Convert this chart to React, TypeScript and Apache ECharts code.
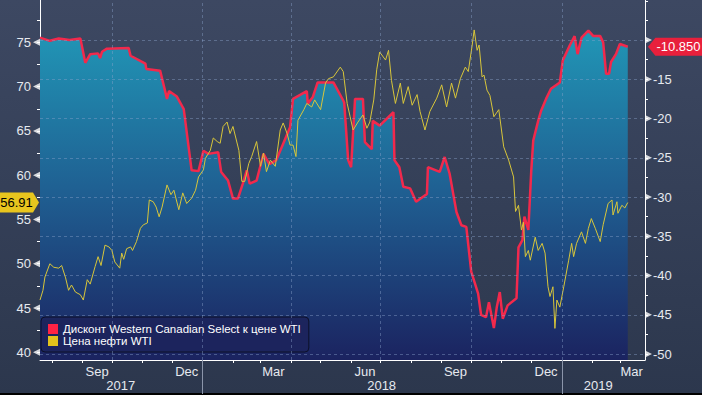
import React, { useEffect, useRef } from 'react';
import * as echarts from 'echarts';

const X_MIN = '2017-07-20';
const X_MAX = '2019-03-26 12:00';

const WCS_NAME = 'Дисконт Western Canadian Select к цене WTI';
const WTI_NAME = 'Цена нефти WTI';

const wcsData: [string, number][] = [
  ['2017-07-20', -9.7], ['2017-07-30', -10.1], ['2017-08-08', -9.8], ['2017-08-19', -10.0], ['2017-08-30', -9.8],
  ['2017-09-04', -12.9], ['2017-09-09', -11.8], ['2017-09-17', -11.7], ['2017-09-19', -12.3], ['2017-09-21', -11.5],
  ['2017-09-26', -11.1], ['2017-10-18', -11.0], ['2017-10-20', -12.0], ['2017-11-04', -13.0], ['2017-11-05', -13.7],
  ['2017-11-19', -13.9], ['2017-11-26', -17.5], ['2017-11-28', -16.5], ['2017-12-06', -17.2], ['2017-12-13', -18.8],
  ['2017-12-21', -26.6], ['2017-12-28', -26.7], ['2018-01-02', -24.1], ['2018-01-07', -24.5], ['2018-01-17', -24.3],
  ['2018-01-20', -26.8], ['2018-01-27', -27.9], ['2018-02-01', -30.2], ['2018-02-06', -30.2], ['2018-02-11', -28.3],
  ['2018-02-15', -26.6], ['2018-02-18', -28.3], ['2018-02-25', -27.9], ['2018-03-04', -24.5], ['2018-03-10', -25.8],
  ['2018-03-17', -25.3], ['2018-03-24', -23.2], ['2018-03-31', -21.1], ['2018-04-03', -17.5], ['2018-04-17', -16.5],
  ['2018-04-18', -18.1], ['2018-04-23', -17.3], ['2018-04-28', -15.4], ['2018-05-14', -15.4], ['2018-05-24', -17.7],
  ['2018-05-25', -18.0], ['2018-05-29', -25.3], ['2018-06-01', -26.2], ['2018-06-05', -17.5], ['2018-06-13', -17.5],
  ['2018-06-15', -23.0], ['2018-06-22', -23.9], ['2018-06-23', -20.3], ['2018-06-30', -20.9], ['2018-07-14', -19.2],
  ['2018-07-15', -25.3], ['2018-07-20', -26.2], ['2018-07-24', -28.7], ['2018-07-31', -28.9], ['2018-08-06', -30.6],
  ['2018-08-17', -29.6], ['2018-08-18', -26.2], ['2018-08-30', -26.8], ['2018-09-04', -24.9], ['2018-09-09', -27.0],
  ['2018-09-16', -31.9], ['2018-09-21', -33.6], ['2018-09-26', -33.8], ['2018-10-01', -39.5], ['2018-10-08', -42.3],
  ['2018-10-11', -45.0], ['2018-10-16', -45.3], ['2018-10-19', -43.4], ['2018-10-24', -46.7], ['2018-10-27', -44.0],
  ['2018-10-30', -42.1], ['2018-11-02', -45.5], ['2018-11-07', -43.8], ['2018-11-16', -42.9], ['2018-11-18', -36.4],
  ['2018-11-22', -35.5], ['2018-11-24', -32.5], ['2018-11-28', -34.2], ['2018-12-01', -26.6], ['2018-12-03', -22.8],
  ['2018-12-08', -20.3], ['2018-12-11', -19.0], ['2018-12-16', -17.5], ['2018-12-21', -16.2], ['2018-12-30', -15.4],
  ['2019-01-02', -12.6], ['2019-01-09', -10.7], ['2019-01-14', -9.5], ['2019-01-17', -11.8], ['2019-01-21', -9.7],
  ['2019-01-28', -8.8], ['2019-02-02', -9.5], ['2019-02-09', -9.5], ['2019-02-12', -10.3], ['2019-02-15', -14.3],
  ['2019-02-18', -14.3], ['2019-02-20', -12.8], ['2019-02-25', -11.8], ['2019-03-01', -10.5], ['2019-03-09', -10.85],
];

const wtiData: [string, number][] = [
  ['2017-07-20', 45.9], ['2017-07-23', 47.0], ['2017-07-25', 48.5], ['2017-07-30', 50.0], ['2017-08-03', 49.6],
  ['2017-08-08', 49.5], ['2017-08-11', 49.8], ['2017-08-15', 48.4], ['2017-08-18', 47.0], ['2017-08-21', 47.6],
  ['2017-08-25', 46.8], ['2017-08-30', 46.5], ['2017-09-02', 45.9], ['2017-09-06', 48.2], ['2017-09-09', 47.7],
  ['2017-09-14', 49.7], ['2017-09-17', 50.8], ['2017-09-20', 49.8], ['2017-09-24', 52.1], ['2017-09-28', 51.9],
  ['2017-10-01', 51.5], ['2017-10-04', 50.2], ['2017-10-09', 49.5], ['2017-10-11', 51.2], ['2017-10-13', 50.5],
  ['2017-10-16', 51.7], ['2017-10-20', 51.9], ['2017-10-22', 51.5], ['2017-10-26', 52.5], ['2017-10-30', 54.0],
  ['2017-11-02', 54.4], ['2017-11-06', 54.6], ['2017-11-08', 57.2], ['2017-11-12', 57.0], ['2017-11-15', 56.4],
  ['2017-11-18', 55.3], ['2017-11-21', 56.4], ['2017-11-26', 58.9], ['2017-11-30', 57.8], ['2017-12-03', 58.3],
  ['2017-12-08', 56.1], ['2017-12-12', 58.0], ['2017-12-16', 56.8], ['2017-12-21', 57.4], ['2017-12-25', 58.3],
  ['2017-12-28', 59.8], ['2018-01-02', 60.6], ['2018-01-04', 61.9], ['2018-01-09', 62.8], ['2018-01-12', 64.2],
  ['2018-01-16', 63.8], ['2018-01-19', 63.6], ['2018-01-22', 65.5], ['2018-01-26', 66.0], ['2018-01-29', 64.7],
  ['2018-02-01', 65.5], ['2018-02-07', 62.8], ['2018-02-10', 59.3], ['2018-02-13', 59.3], ['2018-02-17', 61.3],
  ['2018-02-20', 62.1], ['2018-02-25', 63.8], ['2018-03-01', 61.0], ['2018-03-04', 62.5], ['2018-03-07', 60.4],
  ['2018-03-11', 61.7], ['2018-03-16', 61.0], ['2018-03-21', 65.1], ['2018-03-24', 65.9], ['2018-03-28', 64.7],
  ['2018-03-31', 63.4], ['2018-04-03', 63.4], ['2018-04-06', 62.1], ['2018-04-08', 66.2], ['2018-04-14', 67.4],
  ['2018-04-17', 68.1], ['2018-04-22', 67.7], ['2018-04-25', 68.5], ['2018-05-01', 67.4], ['2018-05-06', 70.4],
  ['2018-05-09', 70.9], ['2018-05-14', 71.1], ['2018-05-21', 72.2], ['2018-05-24', 71.7], ['2018-05-28', 68.1],
  ['2018-05-31', 66.6], ['2018-06-03', 65.1], ['2018-06-08', 66.0], ['2018-06-13', 66.8], ['2018-06-17', 65.3],
  ['2018-06-20', 66.0], ['2018-06-24', 68.5], ['2018-06-27', 71.9], ['2018-06-30', 73.9], ['2018-07-06', 73.0],
  ['2018-07-09', 74.1], ['2018-07-12', 70.7], ['2018-07-16', 68.1], ['2018-07-21', 70.4], ['2018-07-24', 68.1],
  ['2018-07-29', 70.0], ['2018-08-02', 67.9], ['2018-08-07', 69.1], ['2018-08-10', 67.2], ['2018-08-15', 65.1],
  ['2018-08-20', 67.2], ['2018-08-27', 68.7], ['2018-09-01', 70.2], ['2018-09-06', 67.7], ['2018-09-11', 70.4],
  ['2018-09-15', 68.7], ['2018-09-20', 70.9], ['2018-09-25', 72.2], ['2018-09-28', 71.7], ['2018-10-02', 74.7],
  ['2018-10-04', 76.4], ['2018-10-07', 74.1], ['2018-10-09', 74.7], ['2018-10-12', 71.1], ['2018-10-14', 71.3],
  ['2018-10-17', 69.6], ['2018-10-20', 69.0], ['2018-10-24', 66.6], ['2018-10-29', 67.4], ['2018-11-03', 63.2],
  ['2018-11-08', 61.7], ['2018-11-13', 59.8], ['2018-11-15', 55.9], ['2018-11-18', 56.6], ['2018-11-21', 53.8],
  ['2018-11-23', 54.7], ['2018-11-25', 50.8], ['2018-11-28', 51.5], ['2018-11-30', 50.4], ['2018-12-05', 53.0],
  ['2018-12-08', 51.5], ['2018-12-12', 52.3], ['2018-12-15', 51.2], ['2018-12-18', 47.4], ['2018-12-20', 46.3],
  ['2018-12-23', 47.4], ['2018-12-25', 42.7], ['2018-12-27', 45.9], ['2018-12-30', 45.1], ['2019-01-03', 47.4],
  ['2019-01-08', 50.4], ['2019-01-11', 52.3], ['2019-01-13', 50.8], ['2019-01-16', 52.3], ['2019-01-21', 53.6],
  ['2019-01-25', 52.3], ['2019-01-28', 54.0], ['2019-01-31', 55.1], ['2019-02-04', 54.0], ['2019-02-09', 52.5],
  ['2019-02-12', 54.4], ['2019-02-17', 56.8], ['2019-02-21', 57.2], ['2019-02-22', 55.5], ['2019-02-26', 57.0],
  ['2019-02-27', 55.7], ['2019-03-03', 56.6], ['2019-03-06', 56.3], ['2019-03-09', 56.91],
];

const WCS_LAST = -10.85;
const WCS_LAST_LABEL = '-10.850';
const WTI_LAST = 56.91;
const WTI_LAST_LABEL = '56.91';

const leftTicks = [40, 42.5, 45, 47.5, 50, 52.5, 55, 57.5, 60, 62.5, 65, 67.5, 70, 72.5, 75, 77.5];
const leftLabels = [40, 45, 50, 55, 60, 65, 70, 75];
const rightTicks = [-50, -47.5, -45, -42.5, -40, -37.5, -35, -32.5, -30, -27.5, -25, -22.5, -20, -17.5, -15, -12.5, -10, -7.5, -5];
const rightMajors = [-50, -45, -40, -35, -30, -25, -20, -15, -10];
const rightLabels = [-50, -45, -40, -35, -30, -25, -20, -15];

const monthLabels: [string, string][] = [
  ['2017-09-16', 'Sep'], ['2017-12-16', 'Dec'], ['2018-03-14', 'Mar'], ['2018-06-15', 'Jun'],
  ['2018-09-15', 'Sep'], ['2018-12-16', 'Dec'], ['2019-03-13', 'Mar'],
];
const yearLabels: [string, string][] = [['2017-10-10', '2017'], ['2018-07-02', '2018'], ['2019-02-07', '2019']];
const yearStarts = ['2018-01-01', '2019-01-01'];
const quarterLines = ['2017-10-01', '2018-01-01', '2018-04-01', '2018-07-01', '2018-10-01', '2019-01-01'];

const FONT = '"Liberation Sans", Arial, sans-serif';

function P(s: string): number {
  const [datePart, timePart] = s.split(' ');
  const [y, m, d] = datePart.split('-').map(Number);
  let hh = 0, mm = 0;
  if (timePart) [hh, mm] = timePart.split(':').map(Number);
  return Date.UTC(y, m - 1, d, hh, mm);
}

export default function App() {
  const ref = useRef<HTMLDivElement>(null);
  useEffect(() => {
    document.body.style.margin = '0';
    if (!ref.current) return;
    const chart = echarts.init(ref.current, undefined, { renderer: 'svg' });
    const xMin = P(X_MIN);
    const xMax = P(X_MAX);
    const monthStarts: number[] = [];
    for (let y = 2017, m = 7; y < 2019 || (y === 2019 && m <= 2); ) {
      monthStarts.push(Date.UTC(y, m, 1));
      m++;
      if (m > 11) { m = 0; y++; }
    }
    const monthMap = new Map(monthLabels.map(([d, l]) => [P(d), l]));
    const yearMap = new Map(yearLabels.map(([d, l]) => [P(d), l]));
    const wcs = wcsData.map(([d, v]) => [P(d), v]);
    const wti = wtiData.map(([d, v]) => [P(d), v]);

    const option: any = {
      animation: false,
      backgroundColor: new echarts.graphic.LinearGradient(0, 0, 0, 1, [
        { offset: 0, color: '#3d4862' },
        { offset: 1, color: '#2c374d' },
      ]),
      textStyle: { fontFamily: FONT },
      grid: { left: 40, right: 57, top: 0, bottom: 35, containLabel: false },
      legend: {
        left: 41, top: 317, orient: 'vertical', icon: 'rect', itemWidth: 10, itemHeight: 10, itemGap: 0,
        padding: [6, 8, 5, 7], backgroundColor: 'rgba(28,36,92,0.92)', borderColor: '#0c1028', borderWidth: 1,
        borderRadius: 4, textStyle: { color: '#ffffff', fontSize: 11.5, fontFamily: FONT },
        data: [WCS_NAME, WTI_NAME], selectedMode: false,
      },
      xAxis: [
        {
          type: 'value', min: xMin, max: xMax, position: 'bottom', scale: true,
          axisLine: { lineStyle: { color: '#ffffff', width: 1 } },
          axisTick: { customValues: monthStarts, length: 3, lineStyle: { color: '#ffffff' } },
          axisLabel: {
            customValues: monthLabels.map(([d]) => P(d)), margin: 5, color: '#e6e9ef', fontSize: 13,
            fontFamily: FONT, formatter: (v: number) => monthMap.get(v) ?? '',
          },
          splitLine: { show: false },
        },
        {
          type: 'value', min: xMin, max: xMax, position: 'bottom', scale: true,
          axisLine: { show: false },
          axisTick: { customValues: yearStarts.map(P), length: 34, lineStyle: { color: '#8b95aa' } },
          axisLabel: {
            customValues: yearLabels.map(([d]) => P(d)), margin: 19, color: '#e6e9ef', fontSize: 13,
            fontFamily: FONT, formatter: (v: number) => yearMap.get(v) ?? '',
          },
          splitLine: { show: false },
        },
      ],
      yAxis: [
        {
          type: 'value', position: 'left', min: 39.13, max: 79.78,
          axisLine: { show: true, lineStyle: { color: '#ffffff' } },
          axisTick: { show: true, customValues: leftTicks, length: 3, lineStyle: { color: '#ffffff' } },
          axisLabel: { customValues: leftLabels, margin: 9, color: '#e6e9ef', fontSize: 13, fontFamily: FONT },
          splitLine: { show: false },
        },
        {
          type: 'value', position: 'right', min: -50.76, max: -4.9,
          axisLine: { show: true, lineStyle: { color: '#ffffff' } },
          axisTick: { show: true, customValues: rightTicks, length: 3, lineStyle: { color: '#ffffff' } },
          axisLabel: { customValues: rightLabels, margin: 8, color: '#e6e9ef', fontSize: 13, fontFamily: FONT },
          splitLine: { show: false },
        },
      ],
      series: [
        {
          name: WCS_NAME, type: 'line', xAxisIndex: 0, yAxisIndex: 1, data: wcs, symbol: 'none',
          lineStyle: { color: '#f2294c', width: 2.5 }, itemStyle: { color: '#ff2244' },
          areaStyle: {
            origin: 'start', opacity: 1,
            color: new echarts.graphic.LinearGradient(0, 0, 0, 1, [
              { offset: 0, color: '#2196b6' },
              { offset: 0.5, color: '#1f5e91' },
              { offset: 1, color: '#1b2360' },
            ]),
          },
          z: 2,
          markLine: {
            silent: true, symbol: ['none', 'none'], label: { show: false },
            lineStyle: { type: [3, 3], color: 'rgba(140,165,205,0.42)', width: 1 },
            data: [
              ...rightMajors.map((v) => ({ yAxis: v })),
              ...quarterLines.map((d) => ({ xAxis: P(d) })),
            ],
          },
          markPoint: {
            silent: true,
            symbol: 'path://M0,9L7,0L52,0L52,18L7,18Z', symbolSize: [55, 18], symbolOffset: [30.5, 0],
            itemStyle: { color: '#e8203c' },
            label: { show: true, color: '#ffffff', fontSize: 13, fontFamily: FONT, offset: [3, 0], formatter: WCS_LAST_LABEL },
            data: [{ coord: [xMax, WCS_LAST] }],
          },
        },
        {
          name: WTI_NAME, type: 'line', xAxisIndex: 0, yAxisIndex: 0, data: wti, symbol: 'none',
          lineStyle: { color: '#d8c63a', width: 1 }, itemStyle: { color: '#e2c21c' }, z: 3,
          markPoint: {
            silent: true,
            symbol: 'path://M0,0L33,0L39,10L33,20L0,20Z', symbolSize: [39, 20], symbolOffset: [-20.5, 0],
            itemStyle: { color: '#e8c51e' },
            label: { show: true, color: '#000000', fontSize: 13, fontFamily: FONT, offset: [-3, 0], formatter: WTI_LAST_LABEL },
            data: [{ coord: [xMin, WTI_LAST] }],
          },
        },
        {
          type: 'scatter', xAxisIndex: 0, yAxisIndex: 0, silent: true, clip: false, z: 5,
          data: leftLabels.map((v) => [xMin, v]),
          symbol: 'path://M0,5L8,0L8,10Z', symbolSize: [7, 7], symbolOffset: [-3.5, 0],
          itemStyle: { color: '#ffffff' },
        },
        {
          type: 'scatter', xAxisIndex: 0, yAxisIndex: 1, silent: true, clip: false, z: 1,
          data: rightMajors.map((v) => [xMax, v]),
          symbol: 'path://M0,0L8,5L0,10Z', symbolSize: [7, 7], symbolOffset: [3.5, 0],
          itemStyle: { color: '#ffffff' },
        },
      ],
      graphic: [
        { type: 'rect', left: 0, bottom: 0, shape: { width: 702, height: 2 }, style: { fill: '#000000' }, silent: true },
      ],
    };
    chart.setOption(option);
    return () => chart.dispose();
  }, []);
  return <div ref={ref} style={{ width: 702, height: 395 }} />;
}
